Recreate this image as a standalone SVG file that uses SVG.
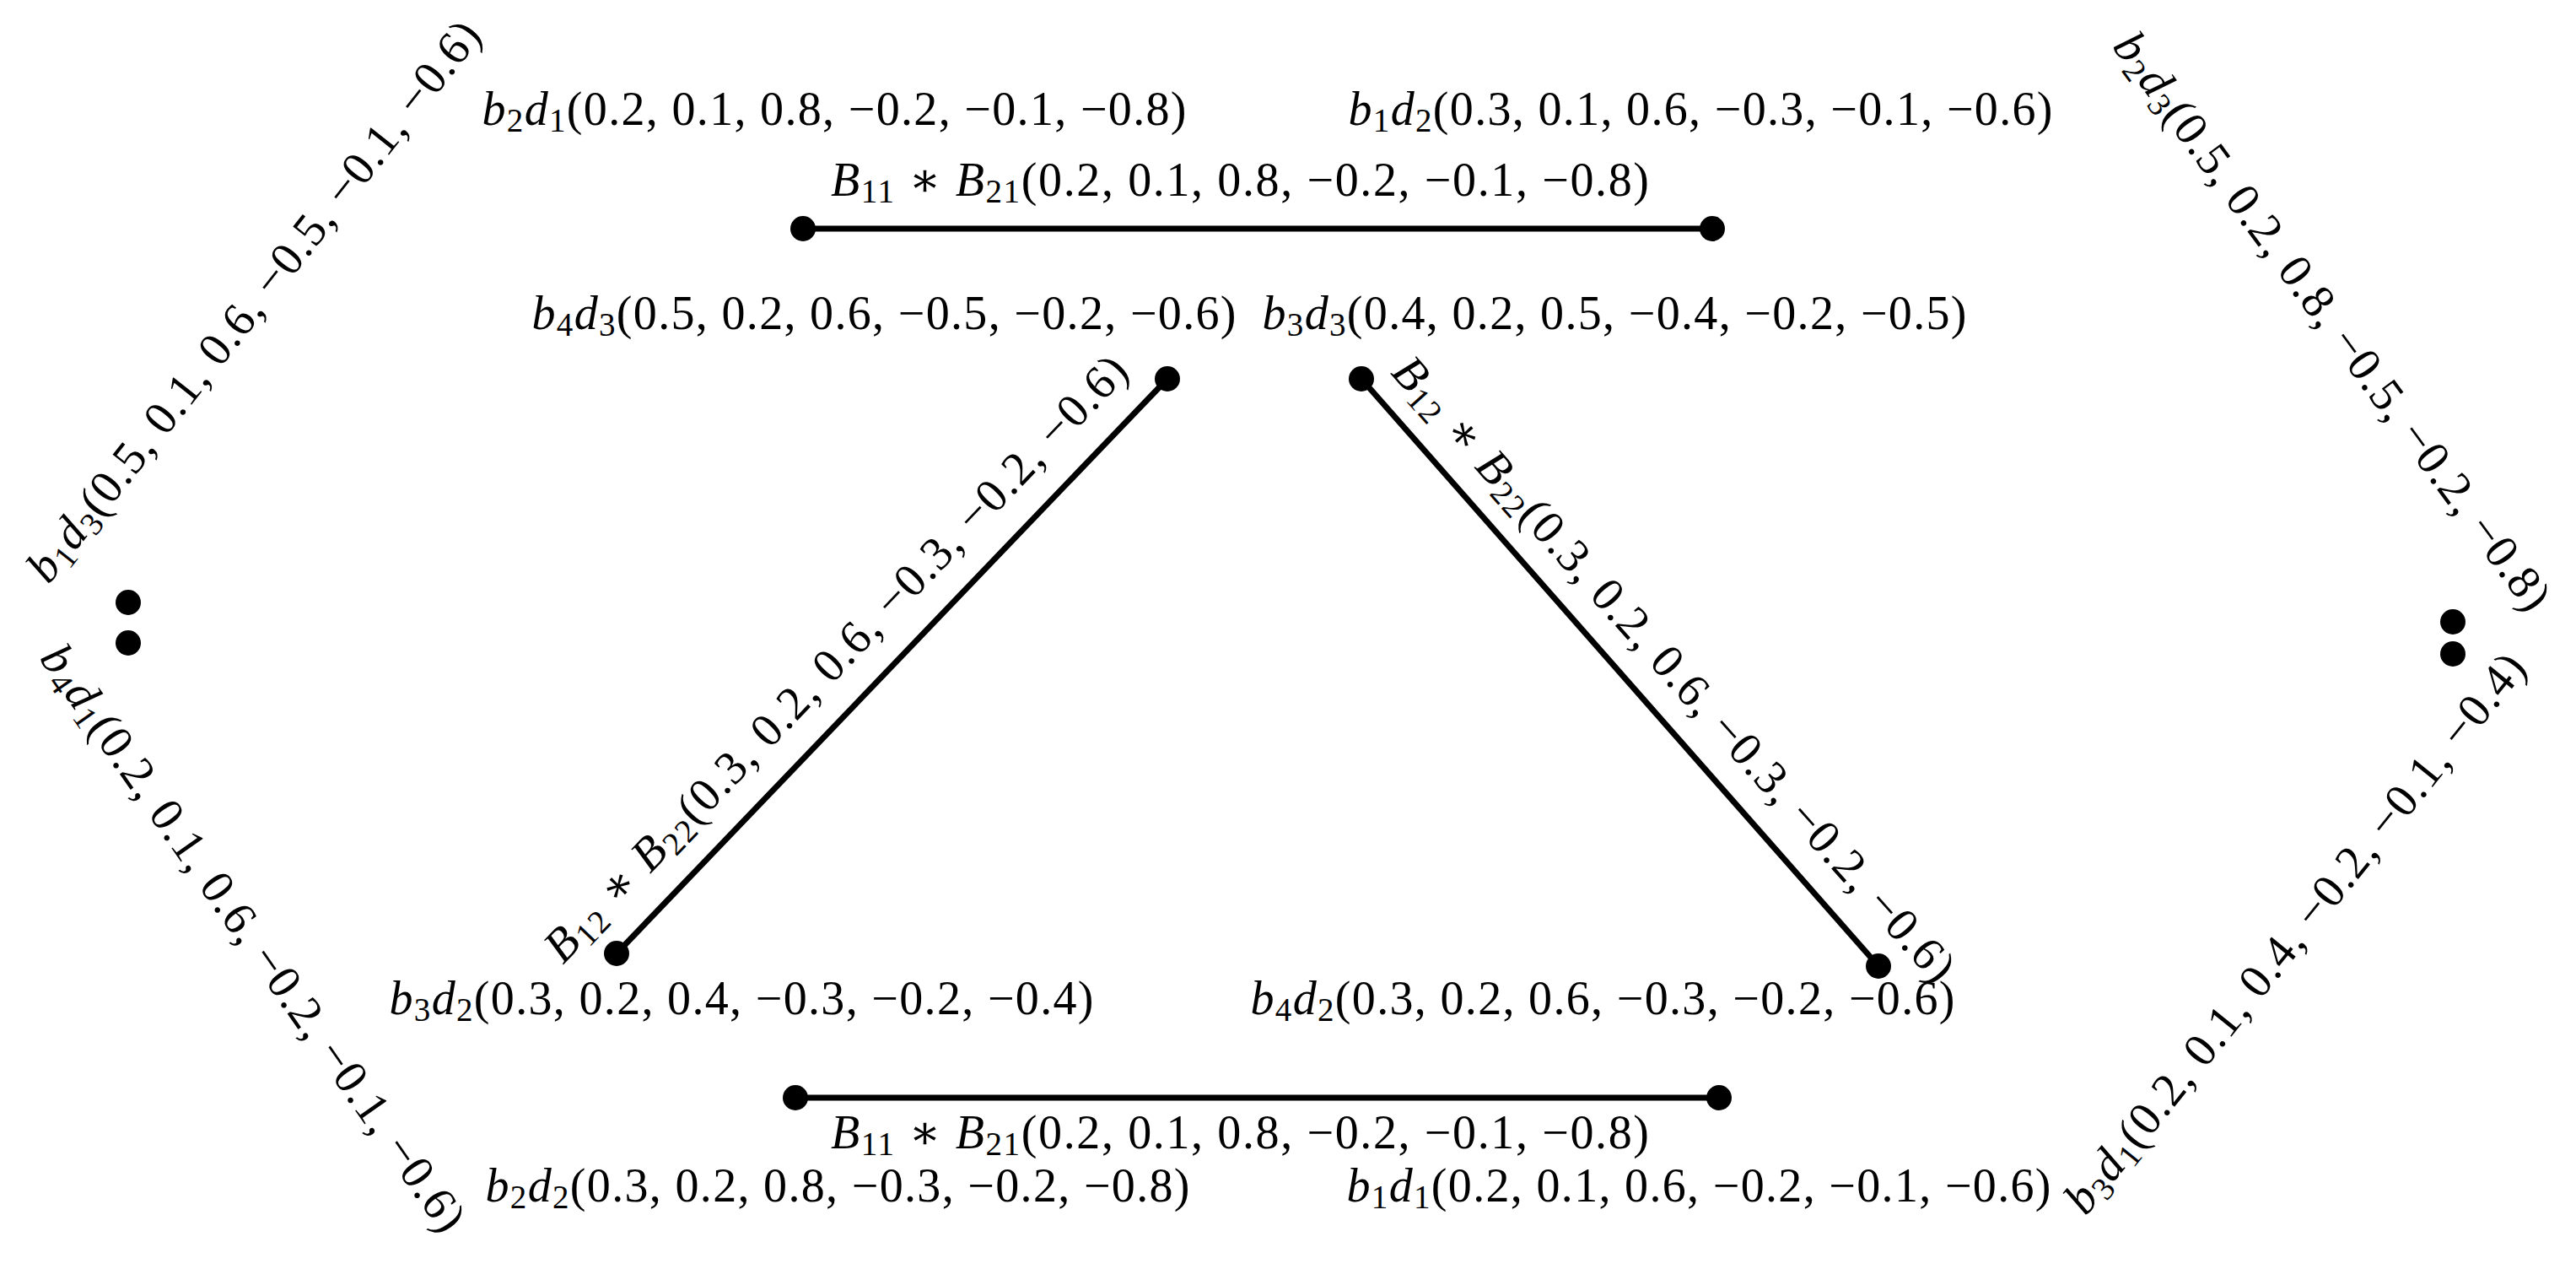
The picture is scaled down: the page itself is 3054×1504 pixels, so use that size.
<svg xmlns="http://www.w3.org/2000/svg" width="3054" height="1504" viewBox="0 0 3054 1504">
<style>
.t{font-family:"Liberation Serif","DejaVu Serif",serif;font-size:56px;text-anchor:middle;fill:#000}
.i{font-style:italic}
.s{font-size:39px}
.e{stroke:#000;stroke-width:7;fill:none}
.d{fill:#000}
</style>
<defs>
<circle id="dot" r="15" class="d"/>
</defs>
<rect width="3054" height="1504" fill="#fff"/>
<g id="connectors">
<g id="e-top">
<line class="e" x1="952" y1="271" x2="2030" y2="271"/>
<text class="t" x="1470" y="232" textLength="970" lengthAdjust="spacing"><tspan class="i">B</tspan><tspan class="s" dy="8">11</tspan><tspan dy="-8"> ∗ </tspan><tspan class="i">B</tspan><tspan class="s" dy="8">21</tspan><tspan dy="-8">(0.2, 0.1, 0.8, −0.2, −0.1, −0.8)</tspan></text>
</g>
<g id="e-bottom">
<line class="e" x1="943" y1="1301" x2="2038" y2="1301"/>
<text class="t" x="1470" y="1361" textLength="970" lengthAdjust="spacing"><tspan class="i">B</tspan><tspan class="s" dy="8">11</tspan><tspan dy="-8"> ∗ </tspan><tspan class="i">B</tspan><tspan class="s" dy="8">21</tspan><tspan dy="-8">(0.2, 0.1, 0.8, −0.2, −0.1, −0.8)</tspan></text>
</g>
<g id="e-left">
<line class="e" x1="731" y1="1130" x2="1384" y2="449"/>
<g transform="translate(1004,793) rotate(-46.2)">
<text class="t" x="0" y="0" textLength="972" lengthAdjust="spacing"><tspan class="i">B</tspan><tspan class="s" dy="8">12</tspan><tspan dy="-8"> ∗ </tspan><tspan class="i">B</tspan><tspan class="s" dy="8">22</tspan><tspan dy="-8">(0.3, 0.2, 0.6, −0.3, −0.2, −0.6)</tspan></text>
</g>
</g>
<g id="e-right">
<line class="e" x1="1614" y1="449" x2="2227" y2="1145"/>
<g transform="translate(1971,805) rotate(48.3)">
<text class="t" x="0" y="0" textLength="972" lengthAdjust="spacing"><tspan class="i">B</tspan><tspan class="s" dy="8">12</tspan><tspan dy="-8"> ∗ </tspan><tspan class="i">B</tspan><tspan class="s" dy="8">22</tspan><tspan dy="-8">(0.3, 0.2, 0.6, −0.3, −0.2, −0.6)</tspan></text>
</g>
</g>
</g>
<g id="n-b2d1">
<use href="#dot" x="952" y="271"/>
<text class="t" x="989" y="148" textLength="835" lengthAdjust="spacing"><tspan class="i">b</tspan><tspan class="s" dy="8">2</tspan><tspan class="i" dy="-8">d</tspan><tspan class="s" dy="8">1</tspan><tspan dy="-8">(0.2, 0.1, 0.8, −0.2, −0.1, −0.8)</tspan></text>
</g>
<g id="n-b1d2">
<use href="#dot" x="2030" y="271"/>
<text class="t" x="2016" y="148" textLength="835" lengthAdjust="spacing"><tspan class="i">b</tspan><tspan class="s" dy="8">1</tspan><tspan class="i" dy="-8">d</tspan><tspan class="s" dy="8">2</tspan><tspan dy="-8">(0.3, 0.1, 0.6, −0.3, −0.1, −0.6)</tspan></text>
</g>
<g id="n-b4d3">
<use href="#dot" x="1384" y="449"/>
<text class="t" x="1048" y="390" textLength="835" lengthAdjust="spacing"><tspan class="i">b</tspan><tspan class="s" dy="8">4</tspan><tspan class="i" dy="-8">d</tspan><tspan class="s" dy="8">3</tspan><tspan dy="-8">(0.5, 0.2, 0.6, −0.5, −0.2, −0.6)</tspan></text>
</g>
<g id="n-b3d3">
<use href="#dot" x="1614" y="449"/>
<text class="t" x="1914" y="390" textLength="835" lengthAdjust="spacing"><tspan class="i">b</tspan><tspan class="s" dy="8">3</tspan><tspan class="i" dy="-8">d</tspan><tspan class="s" dy="8">3</tspan><tspan dy="-8">(0.4, 0.2, 0.5, −0.4, −0.2, −0.5)</tspan></text>
</g>
<g id="n-b3d2">
<use href="#dot" x="731" y="1130"/>
<text class="t" x="879" y="1202" textLength="835" lengthAdjust="spacing"><tspan class="i">b</tspan><tspan class="s" dy="8">3</tspan><tspan class="i" dy="-8">d</tspan><tspan class="s" dy="8">2</tspan><tspan dy="-8">(0.3, 0.2, 0.4, −0.3, −0.2, −0.4)</tspan></text>
</g>
<g id="n-b4d2">
<use href="#dot" x="2227" y="1145"/>
<text class="t" x="1900" y="1202" textLength="835" lengthAdjust="spacing"><tspan class="i">b</tspan><tspan class="s" dy="8">4</tspan><tspan class="i" dy="-8">d</tspan><tspan class="s" dy="8">2</tspan><tspan dy="-8">(0.3, 0.2, 0.6, −0.3, −0.2, −0.6)</tspan></text>
</g>
<g id="n-b2d2">
<use href="#dot" x="943" y="1301"/>
<text class="t" x="993" y="1424" textLength="835" lengthAdjust="spacing"><tspan class="i">b</tspan><tspan class="s" dy="8">2</tspan><tspan class="i" dy="-8">d</tspan><tspan class="s" dy="8">2</tspan><tspan dy="-8">(0.3, 0.2, 0.8, −0.3, −0.2, −0.8)</tspan></text>
</g>
<g id="n-b1d1">
<use href="#dot" x="2038" y="1301"/>
<text class="t" x="2014" y="1424" textLength="835" lengthAdjust="spacing"><tspan class="i">b</tspan><tspan class="s" dy="8">1</tspan><tspan class="i" dy="-8">d</tspan><tspan class="s" dy="8">1</tspan><tspan dy="-8">(0.2, 0.1, 0.6, −0.2, −0.1, −0.6)</tspan></text>
</g>
<g id="n-b1d3">
<use href="#dot" x="152" y="714"/>
<g transform="translate(301,357) rotate(-51.65)">
<text class="t" x="0" y="18" textLength="830" lengthAdjust="spacing"><tspan class="i">b</tspan><tspan class="s" dy="8">1</tspan><tspan class="i" dy="-8">d</tspan><tspan class="s" dy="8">3</tspan><tspan dy="-8">(0.5, 0.1, 0.6, −0.5, −0.1, −0.6)</tspan></text>
</g>
</g>
<g id="n-b4d1">
<use href="#dot" x="152" y="762"/>
<g transform="translate(300,1112) rotate(55)">
<text class="t" x="0" y="18" textLength="835" lengthAdjust="spacing"><tspan class="i">b</tspan><tspan class="s" dy="8">4</tspan><tspan class="i" dy="-8">d</tspan><tspan class="s" dy="8">1</tspan><tspan dy="-8">(0.2, 0.1, 0.6, −0.2, −0.1, −0.6)</tspan></text>
</g>
</g>
<g id="n-b2d3">
<use href="#dot" x="2908" y="737"/>
<g transform="translate(2765,381) rotate(53.7)">
<text class="t" x="0" y="18" textLength="835" lengthAdjust="spacing"><tspan class="i">b</tspan><tspan class="s" dy="8">2</tspan><tspan class="i" dy="-8">d</tspan><tspan class="s" dy="8">3</tspan><tspan dy="-8">(0.5, 0.2, 0.8, −0.5, −0.2, −0.8)</tspan></text>
</g>
</g>
<g id="n-b3d1">
<use href="#dot" x="2908" y="775"/>
<g transform="translate(2721,1106) rotate(-51.1)">
<text class="t" x="0" y="18" textLength="835" lengthAdjust="spacing"><tspan class="i">b</tspan><tspan class="s" dy="8">3</tspan><tspan class="i" dy="-8">d</tspan><tspan class="s" dy="8">1</tspan><tspan dy="-8">(0.2, 0.1, 0.4, −0.2, −0.1, −0.4)</tspan></text>
</g>
</g>
</svg>
